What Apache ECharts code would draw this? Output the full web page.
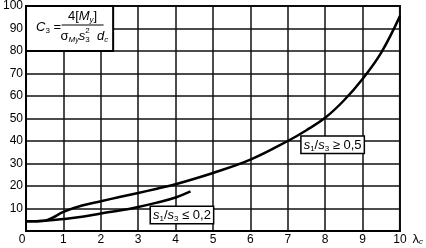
<!DOCTYPE html>
<html>
<head>
<meta charset="utf-8">
<script src="https://cdn.jsdelivr.net/npm/echarts@6/dist/echarts.min.js"></script>
<style>
html,body{margin:0;padding:0;background:#fff;}
#c{width:426px;height:248px;}
</style>
</head>
<body>
<div id="c"></div>
<script>
// Curve s1/s3 >= 0,5
const upperX = [0, 0.5, 0.7, 1, 1.5, 2, 2.5, 3, 3.5, 4, 5, 6, 7, 7.5, 8, 8.5, 9, 9.5, 10];
const upperY = [4.3, 4.6, 5.8, 8.5, 11.3, 13.2, 15.1, 16.9, 18.8, 20.8, 25.8, 31.7, 40.0, 44.8, 50.3, 58.0, 67.6, 79.3, 95.5];
// Curve s1/s3 <= 0,2
const lowerX = [0, 0.5, 1, 1.5, 2, 2.5, 3, 3.5, 4, 4.4];
const lowerY = [4.3, 4.6, 5.3, 6.3, 7.8, 9.1, 10.7, 12.6, 14.9, 17.6];

const FONT = 'Liberation Sans, Arial, sans-serif';
const pairs = (xs, ys) => xs.map((x, i) => [x, ys[i]]);

const chart = echarts.init(document.getElementById('c'), null, {renderer: 'canvas'});

const subRich = {
  i: {fontFamily: FONT, fontStyle: 'italic', fontSize: 13, color: '#000', lineHeight: 15},
  n: {fontFamily: FONT, fontSize: 13, color: '#000', lineHeight: 15},
  b: {fontFamily: FONT, fontSize: 8, color: '#000', lineHeight: 8, verticalAlign: 'bottom', padding: [4, 0, 0, 0]},
  bi: {fontFamily: FONT, fontStyle: 'italic', fontSize: 8, color: '#000', lineHeight: 8, verticalAlign: 'bottom', padding: [4, 0, 0, 0]},
  bb: {fontFamily: FONT, fontStyle: 'italic', fontSize: 7, color: '#000', lineHeight: 7, verticalAlign: 'bottom', padding: [8, 0, 0, 0]}
};

chart.setOption({
  animation: false,
  backgroundColor: '#fff',
  grid: {left: 23, right: 25, top: 5, bottom: 17, show: true, borderColor: '#000', borderWidth: 2, backgroundColor: 'transparent'},
  xAxis: {
    type: 'value', min: 0, max: 10, interval: 1,
    axisLine: {show: true, lineStyle: {color: '#000', width: 2}},
    axisTick: {show: false},
    splitLine: {show: true, lineStyle: {color: '#111', width: 1.5}},
    axisLabel: {
      color: '#000', fontSize: 12, fontFamily: FONT, margin: 3,
      formatter: v => v === 0 ? '{z|0}' : String(v),
      rich: {z: {color: '#000', fontSize: 12, fontFamily: FONT, padding: [0, 8, 0, 0]}}
    },
    name: '{l|λ}{c|c}', nameLocation: 'end', nameGap: 10,
    nameTextStyle: {
      verticalAlign: 'top', padding: [1, 0, 0, 0],
      rich: {
        l: {fontFamily: FONT, fontSize: 13, color: '#000', lineHeight: 14},
        c: {fontFamily: FONT, fontStyle: 'italic', fontSize: 8, color: '#000', lineHeight: 8, verticalAlign: 'bottom', padding: [5, 0, 0, 0]}
      }
    }
  },
  yAxis: {
    type: 'value', min: 0, max: 100, interval: 10,
    axisLine: {show: true, lineStyle: {color: '#000', width: 2}},
    axisTick: {show: false},
    splitLine: {show: true, lineStyle: {color: '#111', width: 1.5}},
    axisLabel: {color: '#000', fontSize: 12, fontFamily: FONT, margin: 3,
      formatter: v => v === 0 ? '' : String(v)}
  },
  series: [
    {type: 'line', data: pairs(upperX, upperY), smooth: 0.4, showSymbol: false,
      lineStyle: {color: '#000', width: 2.5}, z: 5},
    {type: 'line', data: pairs(lowerX, lowerY), smooth: 0.4, showSymbol: false,
      lineStyle: {color: '#000', width: 2.5}, z: 5}
  ]
});

// measure text widths for the stacked super/subscript in the formula
const mctx = document.createElement('canvas').getContext('2d');
const tw = (txt, size, italic) => { mctx.font = (italic ? 'italic ' : '') + size + 'px ' + FONT; return mctx.measureText(txt).width; };

const P = (x, y) => chart.convertToPixel({gridIndex: 0}, [x, y]);
const boxTL = P(0, 100), boxBR = P(2.33, 80);
const up = P(8.2, 38.3), lo = P(4.17, 7.1);
const fx = (boxTL[0] + boxBR[0]) / 2 + 13;
const dx0 = fx - 22;
const preW = tw('σ', 13, false) + tw('M', 8, true) + tw('y', 7, true) + tw('s', 13, true);
const supX = dx0 + preW;

chart.setOption({
  graphic: [
    {type: 'rect', z: 100, shape: {x: boxTL[0], y: boxTL[1], width: boxBR[0] - boxTL[0], height: boxBR[1] - boxTL[1]},
      style: {fill: '#fff', stroke: '#000', lineWidth: 2}},
    {type: 'text', z: 101, style: {x: boxTL[0] + 10, y: (boxTL[1] + boxBR[1]) / 2 - 1, align: 'left', verticalAlign: 'middle',
      text: '{i|C}{b|3}{n| =}', rich: subRich}},
    {type: 'text', z: 101, style: {x: fx, y: boxTL[1] + 10, align: 'center', verticalAlign: 'middle',
      text: '{n|4[}{i|M}{bi|y}{n|]}', rich: subRich}},
    {type: 'line', z: 101, shape: {x1: fx - 21, y1: boxTL[1] + 19, x2: fx + 21, y2: boxTL[1] + 19},
      style: {stroke: '#000', lineWidth: 1}},
    {type: 'text', z: 101, style: {x: dx0, y: boxTL[1] + 30, align: 'left', verticalAlign: 'middle',
      text: '{n|σ}{bi|M}{bb|y}{i|s}{b|3}{i|  d}{bi|c}', rich: subRich}},
    {type: 'text', z: 102, style: {x: supX, y: boxTL[1] + 25, align: 'left', verticalAlign: 'middle',
      text: '2', fontFamily: FONT, fontSize: 8, fill: '#000'}},
    {type: 'text', z: 101, style: {x: up[0], y: up[1], align: 'center', verticalAlign: 'middle',
      text: '{i|s}{b|1}{n|/}{i|s}{b|3}{n| ≥ 0,5}', rich: subRich,
      backgroundColor: '#fff', borderColor: '#000', borderWidth: 1.5, padding: [1, 2, 0, 2]}},
    {type: 'text', z: 101, style: {x: lo[0], y: lo[1], align: 'center', verticalAlign: 'middle',
      text: '{i|s}{b|1}{n|/}{i|s}{b|3}{n| ≤ 0,2}', rich: subRich,
      backgroundColor: '#fff', borderColor: '#000', borderWidth: 1.5, padding: [1, 2, 0, 2]}}
  ]
});
</script>
</body>
</html>
